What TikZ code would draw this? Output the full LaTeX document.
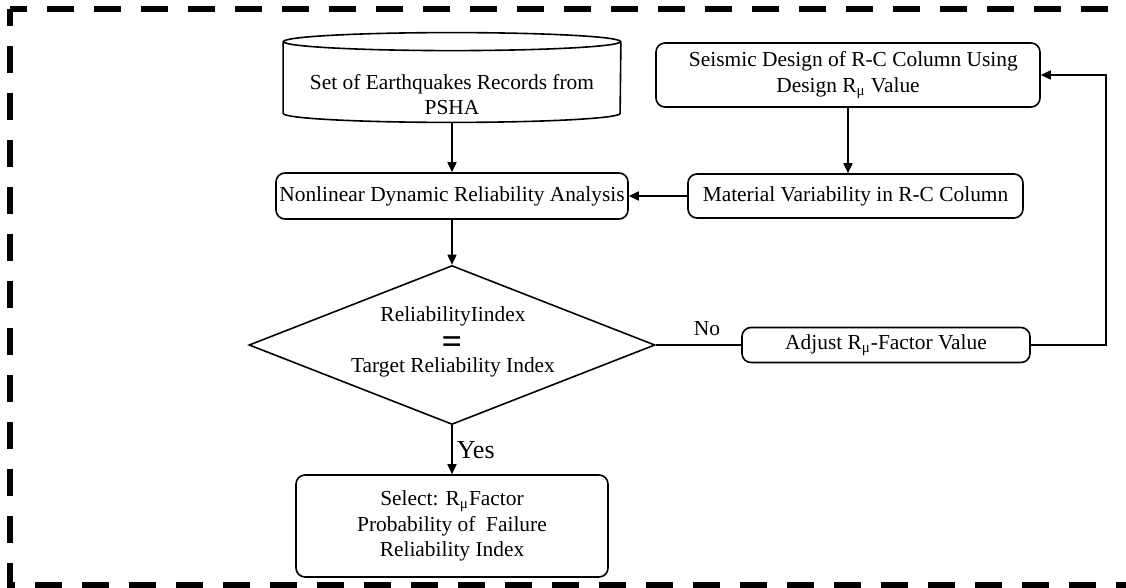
\documentclass[tikz,border=0pt]{standalone}
\usepackage{fontspec}
\setmainfont{Liberation Serif}
\usetikzlibrary{shapes.geometric,arrows.meta,positioning}

\begin{document}
\begin{tikzpicture}[x=0.5pt, y=-0.5pt,
	>={Triangle[length=5pt,width=4.5pt]},
	every node/.style={font=\fontsize{10.7}{12.8}\selectfont},
	box/.style={draw, line width=0.8pt, rounded corners=4.5pt, align=center, inner sep=0pt},
	link/.style={line width=0.8pt},
	frame/.style={line width=3pt, dash pattern=on 13.5pt off 10pt}
]
\useasboundingbox (0,0) rectangle (1126,588);

%% Rahmen
\draw[frame, dash phase=5pt] (10,9) -- (1140,9);
\draw[frame, dash phase=5pt] (10,9) -- (10,585) -- (1140,585);

%% Hauptspalte
\node[minimum width=168.5pt, minimum height=35.5pt, inner sep=0pt] (records) at (452,77.5) {};
\draw[link] (records.north west) -- (records.south west)
	arc[start angle=180, end angle=360, x radius=84.25pt, y radius=4.5pt] -- (records.north east);
\draw[link] (records.north) ellipse[x radius=84.25pt, y radius=4.5pt];
\node[align=center, inner sep=0pt] (recordstext) at ([yshift=-8.5pt]records.center)
	{Set of Earthquakes Records from\\PSHA};
\node[box, minimum width=176pt, minimum height=23pt] (nonlin) at (452,196)
	{Nonlinear Dynamic Reliability Analysis};
\node[diamond, draw, line width=0.8pt, minimum width=203pt, minimum height=79.5pt,
	inner sep=0pt] (decision) at (452,345) {};
\node[anchor=base, inner sep=0pt] (relindex) at (453,322) {ReliabilityIindex};
\node[inner sep=0pt] (equal) at (452,345) {\fontsize{18}{18}\selectfont\textbf{=}};
\node[anchor=base, inner sep=0pt] (target) at (453,373) {Target Reliability Index};
\node[box, minimum width=156pt, minimum height=51pt] (select) at (452,526)
	{Select: R\textsubscript{μ}Factor\\Probability of\ \ Failure\\Reliability Index};

%% rechte Spalte
\node[box, minimum width=192pt, minimum height=32pt] (seismic) at (848,75)
	{\ \ Seismic Design of R-C Column Using\\Design R\textsubscript{μ} Value};
\node[box, minimum width=167.5pt, minimum height=22pt] (material) at (855.5,196)
	{Material Variability in R-C Column};
\node[box, minimum width=144pt, minimum height=17.5pt] (adjust) at (886,345)
	{Adjust R\textsubscript{μ}-Factor Value};

%% Verbindungen
\draw[link, ->] ([yshift=-4.5pt]records.south) -- (nonlin.north);
\draw[link, ->] (nonlin.south) -- (decision.north);
\draw[link, ->] (decision.south) -- node[right, inner sep=2pt, font=\fontsize{13}{13}\selectfont] {Yes} (select.north);
\draw[link] (decision.east) -- node[above, pos=0.6, inner sep=4pt] {No} (adjust.west);
\draw[link, ->] (adjust.east) -- ++(75,0) |- (seismic.east);
\draw[link, ->] (seismic.south) -- (seismic.south |- material.north);
\draw[link, ->] (material.west) -- (nonlin.east);

\end{tikzpicture}
\end{document}
